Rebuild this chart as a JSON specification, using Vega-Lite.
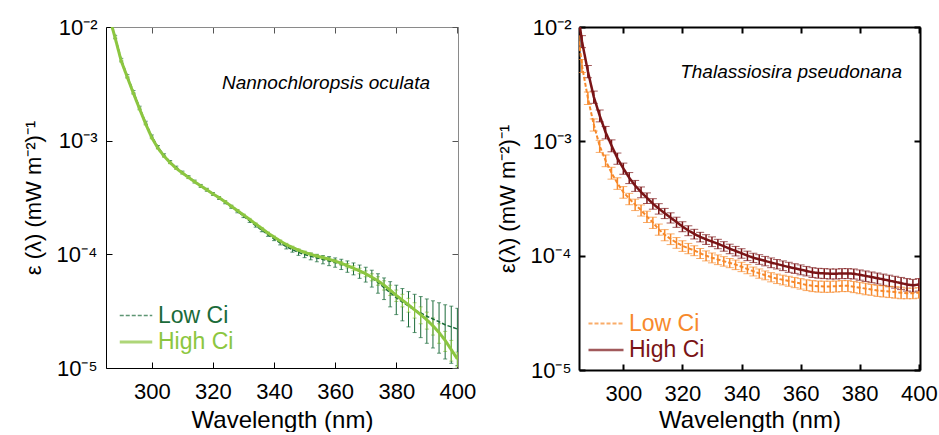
{
  "$schema": "https://vega.github.io/schema/vega-lite/v6.json",
  "padding": {"left": 22, "top": 16, "right": 0, "bottom": 0},
  "spacing": 20,
  "resolve": {"scale": {"color": "independent", "strokeDash": "independent", "strokeWidth": "independent", "x": "independent", "y": "independent"}, "legend": {"color": "independent", "strokeDash": "independent"}},
  "config": {"font": "Liberation Sans", "view": {"stroke": null}, "axis": {"grid": false, "labelFlush": false, "labelFont": "Liberation Sans", "titleFont": "Liberation Sans", "labelColor": "#000", "titleColor": "#000", "titleFontWeight": "normal"}},
  "datasets": {
    "n": [
      {"x":286,"s":"L","y":1.28e-2,"e":3.8e-4},{"x":288,"s":"L","y":8.2e-3,"e":2.5e-4},{"x":290,"s":"L","y":5.15e-3,"e":1.5e-4},{"x":292,"s":"L","y":3.7e-3,"e":1.1e-4},{"x":294,"s":"L","y":2.68e-3,"e":8e-5},{"x":296,"s":"L","y":1.95e-3,"e":6e-5},{"x":298,"s":"L","y":1.44e-3,"e":4.3e-5},{"x":300,"s":"L","y":1.09e-3,"e":3.3e-5},{"x":302,"s":"L","y":8.8e-4,"e":2.6e-5},{"x":304,"s":"L","y":7.45e-4,"e":2.2e-5},{"x":306,"s":"L","y":6.5e-4,"e":1.9e-5},{"x":308,"s":"L","y":5.8e-4,"e":1.7e-5},{"x":310,"s":"L","y":5.25e-4,"e":1.5e-5},{"x":312,"s":"L","y":4.78e-4,"e":1.4e-5},{"x":314,"s":"L","y":4.37e-4,"e":1.3e-5},{"x":316,"s":"L","y":4.0e-4,"e":1.2e-5},{"x":318,"s":"L","y":3.7e-4,"e":1.1e-5},{"x":320,"s":"L","y":3.4e-4,"e":1e-5},{"x":322,"s":"L","y":3.13e-4,"e":9e-6},{"x":324,"s":"L","y":2.87e-4,"e":8.5e-6},{"x":326,"s":"L","y":2.62e-4,"e":8e-6},{"x":328,"s":"L","y":2.39e-4,"e":7e-6},{"x":330,"s":"L","y":2.17e-4,"e":6.5e-6},{"x":332,"s":"L","y":1.97e-4,"e":6e-6},{"x":334,"s":"L","y":1.79e-4,"e":5.5e-6},{"x":336,"s":"L","y":1.63e-4,"e":5e-6},{"x":338,"s":"L","y":1.49e-4,"e":5e-6},{"x":340,"s":"L","y":1.37e-4,"e":5e-6},{"x":342,"s":"L","y":1.26e-4,"e":5e-6},{"x":344,"s":"L","y":1.17e-4,"e":5.5e-6},{"x":346,"s":"L","y":1.1e-4,"e":5.5e-6},{"x":348,"s":"L","y":1.04e-4,"e":6e-6},{"x":350,"s":"L","y":9.95e-5,"e":6e-6},{"x":352,"s":"L","y":9.6e-5,"e":6.5e-6},{"x":354,"s":"L","y":9.3e-5,"e":7e-6},{"x":356,"s":"L","y":9.0e-5,"e":7.5e-6},{"x":358,"s":"L","y":8.75e-5,"e":8e-6},{"x":360,"s":"L","y":8.5e-5,"e":8e-6},{"x":362,"s":"L","y":8.2e-5,"e":8.5e-6},{"x":364,"s":"L","y":7.85e-5,"e":9e-6},{"x":366,"s":"L","y":7.5e-5,"e":9e-6},{"x":368,"s":"L","y":7.1e-5,"e":9.5e-6},{"x":370,"s":"L","y":6.7e-5,"e":1e-5},{"x":372,"s":"L","y":6.2e-5,"e":1.05e-5},{"x":374,"s":"L","y":5.65e-5,"e":1.1e-5},{"x":376,"s":"L","y":5.1e-5,"e":1.1e-5},{"x":378,"s":"L","y":4.6e-5,"e":1.15e-5},{"x":380,"s":"L","y":4.15e-5,"e":1.2e-5},{"x":382,"s":"L","y":3.8e-5,"e":1.2e-5},{"x":384,"s":"L","y":3.5e-5,"e":1.2e-5},{"x":386,"s":"L","y":3.25e-5,"e":1.2e-5},{"x":388,"s":"L","y":3.05e-5,"e":1.2e-5},{"x":390,"s":"L","y":2.85e-5,"e":1.2e-5},{"x":392,"s":"L","y":2.7e-5,"e":1.2e-5},{"x":394,"s":"L","y":2.55e-5,"e":1.2e-5},{"x":396,"s":"L","y":2.4e-5,"e":1.2e-5},{"x":398,"s":"L","y":2.3e-5,"e":1.2e-5},{"x":400,"s":"L","y":2.2e-5,"e":1.15e-5},
      {"x":286,"s":"H","y":1.25e-2,"e":2.5e-4},{"x":288,"s":"H","y":8.0e-3,"e":1.6e-4},{"x":290,"s":"H","y":5.0e-3,"e":1e-4},{"x":292,"s":"H","y":3.6e-3,"e":7e-5},{"x":294,"s":"H","y":2.6e-3,"e":5e-5},{"x":296,"s":"H","y":1.9e-3,"e":3.8e-5},{"x":298,"s":"H","y":1.4e-3,"e":2.8e-5},{"x":300,"s":"H","y":1.06e-3,"e":2.1e-5},{"x":302,"s":"H","y":8.6e-4,"e":1.7e-5},{"x":304,"s":"H","y":7.3e-4,"e":1.5e-5},{"x":306,"s":"H","y":6.4e-4,"e":1.3e-5},{"x":308,"s":"H","y":5.7e-4,"e":1.1e-5},{"x":310,"s":"H","y":5.2e-4,"e":1e-5},{"x":312,"s":"H","y":4.75e-4,"e":9.5e-6},{"x":314,"s":"H","y":4.35e-4,"e":8.7e-6},{"x":316,"s":"H","y":4.0e-4,"e":8e-6},{"x":318,"s":"H","y":3.7e-4,"e":7.4e-6},{"x":320,"s":"H","y":3.4e-4,"e":6.8e-6},{"x":322,"s":"H","y":3.15e-4,"e":6.3e-6},{"x":324,"s":"H","y":2.9e-4,"e":5.8e-6},{"x":326,"s":"H","y":2.65e-4,"e":5.3e-6},{"x":328,"s":"H","y":2.43e-4,"e":4.9e-6},{"x":330,"s":"H","y":2.22e-4,"e":4.4e-6},{"x":332,"s":"H","y":2.03e-4,"e":4.1e-6},{"x":334,"s":"H","y":1.85e-4,"e":3.7e-6},{"x":336,"s":"H","y":1.69e-4,"e":3.4e-6},{"x":338,"s":"H","y":1.54e-4,"e":3.1e-6},{"x":340,"s":"H","y":1.42e-4,"e":2.8e-6},{"x":342,"s":"H","y":1.31e-4,"e":3e-6},{"x":344,"s":"H","y":1.22e-4,"e":3e-6},{"x":346,"s":"H","y":1.15e-4,"e":3e-6},{"x":348,"s":"H","y":1.09e-4,"e":3e-6},{"x":350,"s":"H","y":1.04e-4,"e":3e-6},{"x":352,"s":"H","y":1.0e-4,"e":3e-6},{"x":354,"s":"H","y":9.65e-5,"e":3e-6},{"x":356,"s":"H","y":9.35e-5,"e":3e-6},{"x":358,"s":"H","y":9.05e-5,"e":3e-6},{"x":360,"s":"H","y":8.7e-5,"e":3e-6},{"x":362,"s":"H","y":8.35e-5,"e":3.3e-6},{"x":364,"s":"H","y":7.95e-5,"e":3.6e-6},{"x":366,"s":"H","y":7.55e-5,"e":3.8e-6},{"x":368,"s":"H","y":7.15e-5,"e":4e-6},{"x":370,"s":"H","y":6.75e-5,"e":4e-6},{"x":372,"s":"H","y":6.3e-5,"e":4.5e-6},{"x":374,"s":"H","y":5.85e-5,"e":5e-6},{"x":376,"s":"H","y":5.35e-5,"e":5e-6},{"x":378,"s":"H","y":4.85e-5,"e":5e-6},{"x":380,"s":"H","y":4.35e-5,"e":5e-6},{"x":382,"s":"H","y":3.95e-5,"e":5e-6},{"x":384,"s":"H","y":3.6e-5,"e":5e-6},{"x":386,"s":"H","y":3.25e-5,"e":5e-6},{"x":388,"s":"H","y":2.95e-5,"e":5e-6},{"x":390,"s":"H","y":2.65e-5,"e":4.5e-6},{"x":392,"s":"H","y":2.35e-5,"e":4e-6},{"x":394,"s":"H","y":2.05e-5,"e":4e-6},{"x":396,"s":"H","y":1.75e-5,"e":3.5e-6},{"x":398,"s":"H","y":1.45e-5,"e":3e-6},{"x":400,"s":"H","y":1.2e-5,"e":1.8e-6}
    ],
    "t": [
      {"x":285,"s":"L","y":7.5e-3,"e":9e-4},{"x":286,"s":"L","y":4.6e-3,"e":6e-4},{"x":288,"s":"L","y":2.4e-3,"e":3e-4},{"x":290,"s":"L","y":1.4e-3,"e":1.7e-4},{"x":292,"s":"L","y":9.1e-4,"e":1.1e-4},{"x":294,"s":"L","y":6.8e-4,"e":8e-5},{"x":296,"s":"L","y":5.3e-4,"e":6.3e-5},{"x":298,"s":"L","y":4.3e-4,"e":5e-5},{"x":300,"s":"L","y":3.6e-4,"e":4.2e-5},{"x":302,"s":"L","y":3.15e-4,"e":3.6e-5},{"x":304,"s":"L","y":2.8e-4,"e":3.2e-5},{"x":306,"s":"L","y":2.5e-4,"e":2.8e-5},{"x":308,"s":"L","y":2.2e-4,"e":2.5e-5},{"x":310,"s":"L","y":1.95e-4,"e":2.2e-5},{"x":312,"s":"L","y":1.7e-4,"e":1.9e-5},{"x":314,"s":"L","y":1.52e-4,"e":1.7e-5},{"x":316,"s":"L","y":1.4e-4,"e":1.5e-5},{"x":318,"s":"L","y":1.3e-4,"e":1.4e-5},{"x":320,"s":"L","y":1.22e-4,"e":1.3e-5},{"x":322,"s":"L","y":1.16e-4,"e":1.2e-5},{"x":324,"s":"L","y":1.11e-4,"e":1.1e-5},{"x":326,"s":"L","y":1.05e-4,"e":1.05e-5},{"x":328,"s":"L","y":1.0e-4,"e":1e-5},{"x":330,"s":"L","y":9.6e-5,"e":9.5e-6},{"x":332,"s":"L","y":9.25e-5,"e":9e-6},{"x":334,"s":"L","y":8.95e-5,"e":8.5e-6},{"x":336,"s":"L","y":8.65e-5,"e":8e-6},{"x":338,"s":"L","y":8.35e-5,"e":8e-6},{"x":340,"s":"L","y":8.0e-5,"e":7.5e-6},{"x":342,"s":"L","y":7.65e-5,"e":7e-6},{"x":344,"s":"L","y":7.3e-5,"e":6.5e-6},{"x":346,"s":"L","y":7.0e-5,"e":6.5e-6},{"x":348,"s":"L","y":6.75e-5,"e":6e-6},{"x":350,"s":"L","y":6.5e-5,"e":6e-6},{"x":352,"s":"L","y":6.3e-5,"e":6e-6},{"x":354,"s":"L","y":6.15e-5,"e":6e-6},{"x":356,"s":"L","y":6.0e-5,"e":6e-6},{"x":358,"s":"L","y":5.85e-5,"e":6e-6},{"x":360,"s":"L","y":5.7e-5,"e":6e-6},{"x":362,"s":"L","y":5.55e-5,"e":6e-6},{"x":364,"s":"L","y":5.45e-5,"e":6e-6},{"x":366,"s":"L","y":5.4e-5,"e":6e-6},{"x":368,"s":"L","y":5.38e-5,"e":6e-6},{"x":370,"s":"L","y":5.38e-5,"e":6e-6},{"x":372,"s":"L","y":5.4e-5,"e":6e-6},{"x":374,"s":"L","y":5.45e-5,"e":6e-6},{"x":376,"s":"L","y":5.45e-5,"e":6e-6},{"x":378,"s":"L","y":5.35e-5,"e":6e-6},{"x":380,"s":"L","y":5.25e-5,"e":6e-6},{"x":382,"s":"L","y":5.15e-5,"e":6e-6},{"x":384,"s":"L","y":5.05e-5,"e":5.5e-6},{"x":386,"s":"L","y":4.95e-5,"e":5.5e-6},{"x":388,"s":"L","y":4.9e-5,"e":5.5e-6},{"x":390,"s":"L","y":4.85e-5,"e":5.5e-6},{"x":392,"s":"L","y":4.8e-5,"e":5.5e-6},{"x":394,"s":"L","y":4.75e-5,"e":5.5e-6},{"x":396,"s":"L","y":4.7e-5,"e":5e-6},{"x":398,"s":"L","y":4.7e-5,"e":5e-6},{"x":400,"s":"L","y":4.75e-5,"e":5e-6},
      {"x":285,"s":"H","y":1.15e-2,"e":1.3e-3},{"x":286,"s":"H","y":7.5e-3,"e":9e-4},{"x":288,"s":"H","y":4.1e-3,"e":5e-4},{"x":290,"s":"H","y":2.45e-3,"e":3e-4},{"x":292,"s":"H","y":1.68e-3,"e":2e-4},{"x":294,"s":"H","y":1.2e-3,"e":1.5e-4},{"x":296,"s":"H","y":9.2e-4,"e":1.1e-4},{"x":298,"s":"H","y":7.1e-4,"e":8e-5},{"x":300,"s":"H","y":5.8e-4,"e":6.5e-5},{"x":302,"s":"H","y":4.8e-4,"e":5.3e-5},{"x":304,"s":"H","y":4.1e-4,"e":4.5e-5},{"x":306,"s":"H","y":3.6e-4,"e":3.9e-5},{"x":308,"s":"H","y":3.2e-4,"e":3.4e-5},{"x":310,"s":"H","y":2.85e-4,"e":3e-5},{"x":312,"s":"H","y":2.58e-4,"e":2.7e-5},{"x":314,"s":"H","y":2.35e-4,"e":2.4e-5},{"x":316,"s":"H","y":2.15e-4,"e":2.2e-5},{"x":318,"s":"H","y":1.97e-4,"e":2e-5},{"x":320,"s":"H","y":1.8e-4,"e":1.8e-5},{"x":322,"s":"H","y":1.66e-4,"e":1.65e-5},{"x":324,"s":"H","y":1.55e-4,"e":1.5e-5},{"x":326,"s":"H","y":1.46e-4,"e":1.4e-5},{"x":328,"s":"H","y":1.39e-4,"e":1.35e-5},{"x":330,"s":"H","y":1.33e-4,"e":1.3e-5},{"x":332,"s":"H","y":1.27e-4,"e":1.2e-5},{"x":334,"s":"H","y":1.21e-4,"e":1.15e-5},{"x":336,"s":"H","y":1.15e-4,"e":1.1e-5},{"x":338,"s":"H","y":1.1e-4,"e":1.05e-5},{"x":340,"s":"H","y":1.05e-4,"e":1e-5},{"x":342,"s":"H","y":1.0e-4,"e":9.5e-6},{"x":344,"s":"H","y":9.6e-5,"e":9e-6},{"x":346,"s":"H","y":9.3e-5,"e":9e-6},{"x":348,"s":"H","y":9.0e-5,"e":8.5e-6},{"x":350,"s":"H","y":8.7e-5,"e":8.5e-6},{"x":352,"s":"H","y":8.45e-5,"e":8e-6},{"x":354,"s":"H","y":8.2e-5,"e":8e-6},{"x":356,"s":"H","y":7.95e-5,"e":8e-6},{"x":358,"s":"H","y":7.75e-5,"e":7.5e-6},{"x":360,"s":"H","y":7.55e-5,"e":7.5e-6},{"x":362,"s":"H","y":7.35e-5,"e":7e-6},{"x":364,"s":"H","y":7.15e-5,"e":7e-6},{"x":366,"s":"H","y":7.05e-5,"e":7e-6},{"x":368,"s":"H","y":7.0e-5,"e":7e-6},{"x":370,"s":"H","y":6.95e-5,"e":7e-6},{"x":372,"s":"H","y":6.95e-5,"e":7e-6},{"x":374,"s":"H","y":7.0e-5,"e":7e-6},{"x":376,"s":"H","y":7.0e-5,"e":7e-6},{"x":378,"s":"H","y":6.95e-5,"e":7e-6},{"x":380,"s":"H","y":6.8e-5,"e":7e-6},{"x":382,"s":"H","y":6.65e-5,"e":7e-6},{"x":384,"s":"H","y":6.5e-5,"e":7e-6},{"x":386,"s":"H","y":6.35e-5,"e":7e-6},{"x":388,"s":"H","y":6.2e-5,"e":7e-6},{"x":390,"s":"H","y":6.05e-5,"e":7e-6},{"x":392,"s":"H","y":5.9e-5,"e":7e-6},{"x":394,"s":"H","y":5.75e-5,"e":7e-6},{"x":396,"s":"H","y":5.6e-5,"e":7e-6},{"x":398,"s":"H","y":5.5e-5,"e":7e-6},{"x":400,"s":"H","y":5.6e-5,"e":7e-6}
    ]
  },
  "hconcat": [
    {
      "width": 352, "height": 341,
      "data": {"name": "n"},
      "title": {"text": "Nannochloropsis oculata", "fontStyle": "italic", "fontWeight": "normal", "fontSize": 19, "font": "Liberation Sans", "anchor": "end", "frame": "group", "orient": "top", "offset": 0, "baseline": "middle", "dy": 86, "dx": -28, "color": "#000"},
      "resolve": {"axis": {"x": "independent", "y": "independent"}},
      "layer": [
        {
          "mark": {"type": "errorbar", "ticks": {"size": 4}, "rule": {"strokeWidth": 1}, "clip": true},
          "encoding": {
            "x": {"field": "x", "type": "quantitative", "scale": {"domain": [285, 400.2], "nice": false, "zero": false, "padding": 0},
                  "axis": {"orient": "bottom", "values": [300, 320, 340, 360, 380, 400], "tickSize": -6, "labelPadding": 19, "labelFontSize": 22, "title": "Wavelength (nm)", "titleFontSize": 24, "titlePadding": 6, "domainColor": "#000", "tickColor": "#000"}},
            "y": {"field": "y", "type": "quantitative", "scale": {"type": "log", "domain": [1e-5, 1e-2], "nice": false},
                  "axis": {"orient": "left", "values": [1e-5, 1e-4, 1e-3, 1e-2], "labelExpr": "'10' + (datum.value < 5e-5 ? '⁻⁵' : datum.value < 5e-4 ? '⁻⁴' : datum.value < 5e-3 ? '⁻³' : '⁻²')", "tickSize": -6, "labelPadding": 15, "labelFontSize": 22, "title": "ε (λ) (mW m⁻²)⁻¹", "titleFontSize": 22, "titlePadding": 11, "domainColor": "#000", "tickColor": "#000"}},
            "yError": {"field": "e"},
            "color": {"field": "s", "type": "nominal", "scale": {"domain": ["L", "H"], "range": ["#1b6b3a", "#8cc640"]},
                      "legend": {"orient": "none", "legendX": 16, "legendY": 275, "title": null, "symbolType": "M-1.3,0H1.3", "symbolSize": 625, "symbolStrokeWidth": 2.5, "labelFontSize": 23, "labelOffset": 8, "rowPadding": 0, "labelExpr": "datum.value == 'L' ? 'Low Ci' : 'High Ci'", "encoding": {"labels": {"fill": {"condition": {"test": "datum.value == 'L'", "value": "#1b6b3a"}, "value": "#8cc640"}}}}}
          }
        },
        {
          "mark": {"type": "line", "clip": true},
          "encoding": {
            "x": {"field": "x", "type": "quantitative", "axis": {"orient": "top", "values": [300, 320, 340, 360, 380, 400], "labels": false, "title": null, "tickSize": -6, "domainColor": "#8a8a8a", "tickColor": "#555"}},
            "y": {"field": "y", "type": "quantitative", "axis": {"orient": "right", "values": [1e-5, 1e-4, 1e-3, 1e-2], "labels": false, "title": null, "tickSize": -6, "domainColor": "#8a8a8a", "tickColor": "#555"}},
            "color": {"field": "s", "type": "nominal",
                      "legend": {"orient": "none", "legendX": 16, "legendY": 275, "title": null, "symbolType": "M-1.3,0H1.3", "symbolSize": 625, "symbolStrokeWidth": 2.5, "labelFontSize": 23, "labelOffset": 8, "rowPadding": 0, "labelExpr": "datum.value == 'L' ? 'Low Ci' : 'High Ci'", "encoding": {"labels": {"fill": {"condition": {"test": "datum.value == 'L'", "value": "#1b6b3a"}, "value": "#8cc640"}}}}},
            "strokeDash": {"field": "s", "type": "nominal", "scale": {"domain": ["L", "H"], "range": [[4, 2], [1, 0]]}},
            "strokeWidth": {"field": "s", "type": "nominal", "scale": {"domain": ["L", "H"], "range": [1.5, 3]}, "legend": null}
          }
        }
      ]
    },
    {
      "width": 341, "height": 343,
      "data": {"name": "t"},
      "title": {"text": "Thalassiosira pseudonana", "fontStyle": "italic", "fontWeight": "normal", "fontSize": 19, "font": "Liberation Sans", "anchor": "end", "frame": "group", "orient": "top", "offset": 0, "baseline": "middle", "dy": 75, "dx": -18, "color": "#000"},
      "resolve": {"axis": {"x": "independent", "y": "independent"}},
      "layer": [
        {
          "mark": {"type": "errorbar", "ticks": {"size": 8, "strokeWidth": 1.5}, "rule": {"strokeWidth": 1.5}, "clip": true},
          "encoding": {
            "x": {"field": "x", "type": "quantitative", "scale": {"domain": [285, 400.4], "nice": false, "zero": false, "padding": 0},
                  "axis": {"orient": "bottom", "values": [300, 320, 340, 360, 380, 400], "tickSize": -6, "tickWidth": 2, "domainWidth": 2, "labelPadding": 19, "labelFontSize": 22, "title": "Wavelength (nm)", "titleFontSize": 24, "titlePadding": 4, "domainColor": "#000", "tickColor": "#000"}},
            "y": {"field": "y", "type": "quantitative", "scale": {"type": "log", "domain": [1e-5, 1e-2], "nice": false},
                  "axis": {"orient": "left", "values": [1e-5, 1e-4, 1e-3, 1e-2], "labelExpr": "'10' + (datum.value < 5e-5 ? '⁻⁵' : datum.value < 5e-4 ? '⁻⁴' : datum.value < 5e-3 ? '⁻³' : '⁻²')", "tickSize": -6, "tickWidth": 2, "domainWidth": 2, "labelPadding": 14, "labelFontSize": 22, "title": "ε(λ) (mW m⁻²)⁻¹", "titleFontSize": 22, "titlePadding": 11, "domainColor": "#000", "tickColor": "#000"}},
            "yError": {"field": "e"},
            "color": {"field": "s", "type": "nominal", "scale": {"domain": ["L", "H"], "range": ["#f7892b", "#7a1416"]},
                      "legend": {"orient": "none", "legendX": 13, "legendY": 283, "title": null, "symbolType": "M-1.4,0H1.4", "symbolSize": 625, "symbolStrokeWidth": 2.5, "labelFontSize": 23, "labelOffset": 9, "rowPadding": 0, "labelExpr": "datum.value == 'L' ? 'Low Ci' : 'High Ci'", "encoding": {"labels": {"fill": {"condition": {"test": "datum.value == 'L'", "value": "#f7892b"}, "value": "#7a1416"}}}}}
          }
        },
        {
          "mark": {"type": "line", "clip": true},
          "encoding": {
            "x": {"field": "x", "type": "quantitative", "axis": {"orient": "top", "values": [300, 320, 340, 360, 380, 400], "labels": false, "title": null, "tickSize": -6, "tickWidth": 2, "domainWidth": 2, "domainColor": "#000", "tickColor": "#000"}},
            "y": {"field": "y", "type": "quantitative", "axis": {"orient": "right", "values": [1e-5, 1e-4, 1e-3, 1e-2], "labels": false, "title": null, "tickSize": -6, "tickWidth": 2, "domainWidth": 2, "domainColor": "#000", "tickColor": "#000"}},
            "color": {"field": "s", "type": "nominal",
                      "legend": {"orient": "none", "legendX": 13, "legendY": 283, "title": null, "symbolType": "M-1.4,0H1.4", "symbolSize": 625, "symbolStrokeWidth": 2.5, "labelFontSize": 23, "labelOffset": 9, "rowPadding": 0, "labelExpr": "datum.value == 'L' ? 'Low Ci' : 'High Ci'", "encoding": {"labels": {"fill": {"condition": {"test": "datum.value == 'L'", "value": "#f7892b"}, "value": "#7a1416"}}}}},
            "strokeDash": {"field": "s", "type": "nominal", "scale": {"domain": ["L", "H"], "range": [[4, 2], [1, 0]]}},
            "strokeWidth": {"field": "s", "type": "nominal", "scale": {"domain": ["L", "H"], "range": [2, 2.5]}, "legend": null}
          }
        }
      ]
    }
  ]
}
